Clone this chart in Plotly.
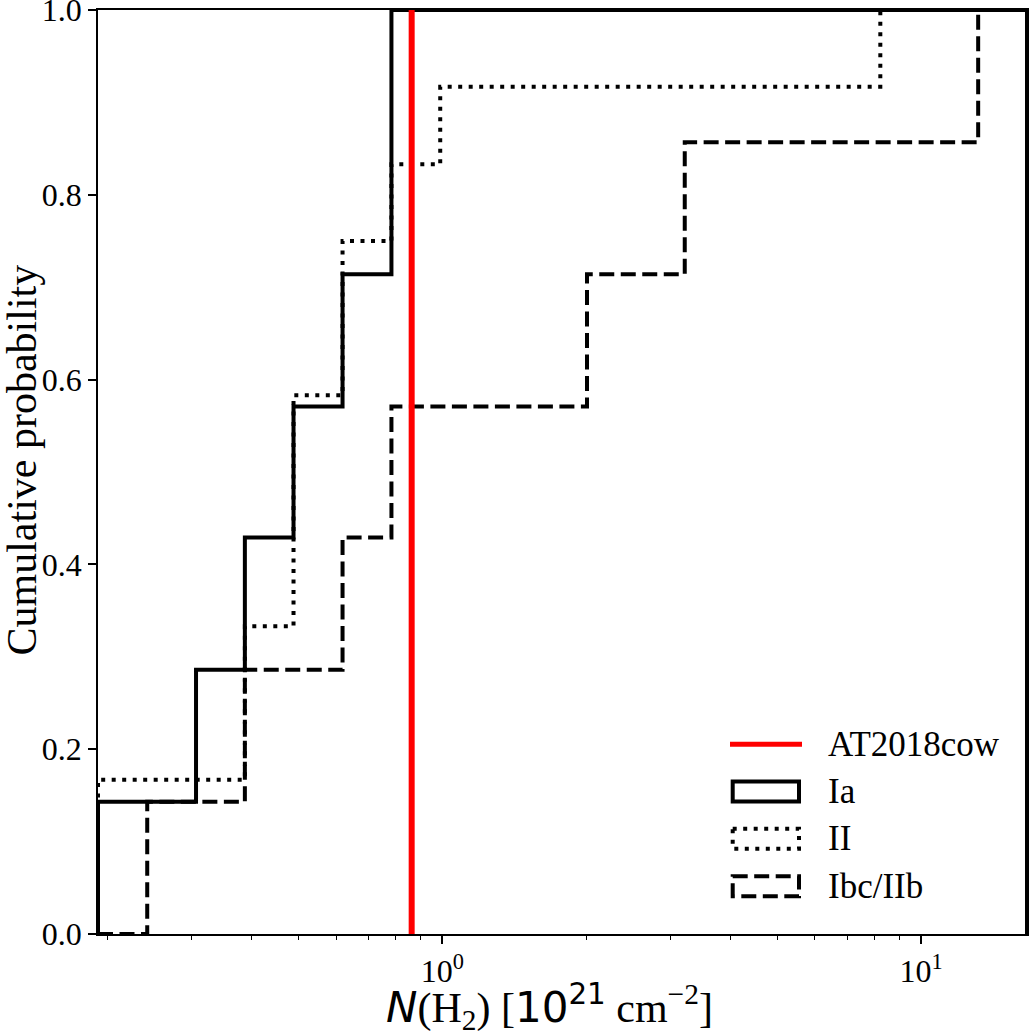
import plotly.graph_objects as go
import math

# ---- data ----
x_min = 0.191          # first bin edge (left limit)
x_max = 16.63          # last bin edge (right limit)

ia_x = [0.191, 0.306, 0.387, 0.489, 0.619, 0.783]
ia_y = [0.143, 0.286, 0.429, 0.571, 0.714, 1.0]

ii_x = [0.191, 0.387, 0.489, 0.619, 0.783, 0.990, 8.215]
ii_y = [0.167, 0.333, 0.583, 0.750, 0.833, 0.917, 1.0]

ibc_x = [0.191, 0.242, 0.387, 0.619, 0.783, 2.005, 3.208, 13.15]
ibc_y = [0.0, 0.143, 0.286, 0.429, 0.571, 0.714, 0.857, 1.0]

cow_x = 0.863

y_ticks = [0.0, 0.2, 0.4, 0.6, 0.8, 1.0]
x_ticks = [1, 10]
x_ticktext = ["10<sup>0</sup>", "10<sup>1</sup>"]
x_minor = [0.2, 0.3, 0.4, 0.5, 0.6, 0.7, 0.8, 0.9, 2, 3, 4, 5, 6, 7, 8, 9]

legend_names = ["AT2018cow", "Ia", "II", "Ibc/IIb"]

# ---- layout geometry ----
W, H = 1036, 1034
L, R, T, B = 98, 9, 10, 100
PW, PH = W - L - R, H - T - B
SERIF = "Liberation Serif, Times New Roman, serif"
FS_TICK = 32
FS_LEG = 35
FS_TITLE = 42

def px(x):
    return (x - L) / PW

def py(y):
    return (T + PH - y) / PH

def step(xs, ys):
    return [xs[0]] + xs + [x_max], [0] + ys + [0]

fig = go.Figure()
LW = 4
DOT = "4px,6.5px"
DASH = "15px,6.5px"
for xs, ys, dash in [(ia_x, ia_y, "solid"), (ii_x, ii_y, DOT), (ibc_x, ibc_y, DASH)]:
    sx, sy = step(xs, ys)
    fig.add_trace(go.Scatter(x=sx, y=sy, mode="lines", line_shape="hv",
                             line=dict(color="black", width=LW, dash=dash),
                             showlegend=False, hoverinfo="skip"))

fig.add_trace(go.Scatter(x=[cow_x, cow_x], y=[0, 1], mode="lines",
                         line=dict(color="#ff0000", width=6), showlegend=False,
                         hoverinfo="skip"))

# ---- manual legend ----
shapes = []
ann = []
leg_y = [744.3, 791.5, 838.7, 886.2]
shapes.append(dict(type="line", xref="paper", yref="paper",
                   x0=px(730), x1=px(802), y0=py(leg_y[0]), y1=py(leg_y[0]),
                   line=dict(color="#ff0000", width=5)))
for yc, dash in zip(leg_y[1:], ["solid", DOT, DASH]):
    shapes.append(dict(type="rect", xref="paper", yref="paper",
                       x0=px(732.7), x1=px(799), y0=py(yc - 10), y1=py(yc + 10),
                       line=dict(color="black", width=LW, dash=dash)))
for yc, name in zip(leg_y, legend_names):
    ann.append(dict(xref="paper", yref="paper", x=px(826), y=py(yc),
                    xanchor="left", yanchor="middle", text=name, showarrow=False,
                    font=dict(family=SERIF, size=FS_LEG, color="black")))

# axis titles
ann.append(dict(xref="paper", yref="paper", x=px(549), y=py(1006),
                xanchor="center", yanchor="middle", showarrow=False,
                text=("<span style='font-family:DejaVu Sans'><i>N</i></span>(H<sub>2</sub>) ["
                      "<span style='font-family:DejaVu Sans'>10<sup>21</sup></span>"
                      " cm<sup>\u22122</sup>]"),
                font=dict(family=SERIF, size=FS_TITLE, color="black")))
ann.append(dict(xref="paper", yref="paper", x=px(21.5), y=py(460),
                xanchor="center", yanchor="middle", showarrow=False, textangle=-90,
                text="Cumulative probability",
                font=dict(family=SERIF, size=FS_TITLE, color="black")))

fig.update_layout(
    width=W, height=H,
    margin=dict(l=L, r=R, t=T, b=B, autoexpand=False),
    paper_bgcolor="white", plot_bgcolor="white",
    shapes=shapes, annotations=ann,
    font=dict(family=SERIF, size=FS_TICK, color="black"),
    xaxis=dict(type="log", range=[math.log10(x_min), math.log10(x_max)],
               tickvals=x_ticks, ticktext=x_ticktext, automargin=False,
               ticks="outside", ticklen=8, tickwidth=1.5, tickcolor="black",
               showline=True, linecolor="black", linewidth=1.5, mirror=True,
               showgrid=False, zeroline=False, ticklabeloverflow="allow",
               tickfont=dict(family=SERIF, size=FS_TICK),
               minor=dict(tickvals=x_minor, ticks="outside", ticklen=4.5,
                          tickwidth=1.2, tickcolor="black", showgrid=False)),
    yaxis=dict(range=[0, 1], tickvals=y_ticks, tickformat=".1f", automargin=False,
               ticks="outside", ticklen=8, tickwidth=1.5, tickcolor="black",
               showline=True, linecolor="black", linewidth=1.5, mirror=True,
               showgrid=False, zeroline=False, ticklabeloverflow="allow",
               tickfont=dict(family=SERIF, size=FS_TICK)),
)

fig.write_html("out.html")
